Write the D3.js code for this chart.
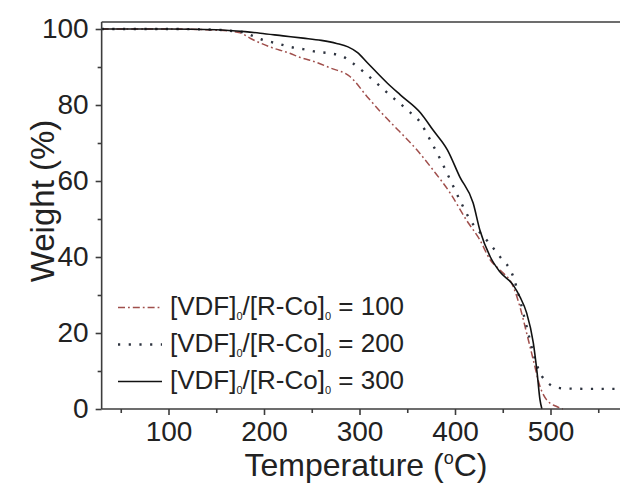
<!DOCTYPE html>
<html>
<head>
<meta charset="utf-8">
<script src="https://cdn.jsdelivr.net/npm/d3@7"></script>
<style>
  html, body { margin: 0; padding: 0; background: #fff; }
  svg { display: block; }
  text { font-family: "Liberation Sans", Arial, sans-serif; fill: #222; }
</style>
</head>
<body>
<svg id="chart" width="620" height="489"></svg>
<script>
// ---- data ----
const temps100 = [30, 100, 150, 175, 186, 206, 227, 238, 248, 270, 290, 308, 325, 342, 360, 377, 395, 412, 426, 437, 447, 461, 468, 475, 482, 489, 496, 507, 513];
const weight100 = [100, 100, 99.7, 99, 97.5, 95.3, 93.6, 92.5, 91.8, 89.7, 87.5, 82.2, 77.4, 73, 68.2, 62.9, 56.8, 49.7, 44.5, 39.2, 36.6, 32.2, 26.9, 20, 12.9, 5.9, 2.4, 0.6, 0];

const temps200 = [30, 100, 150, 170, 178, 186, 199, 214, 227, 241, 255, 269, 283, 293, 304, 314, 332, 350, 364, 374, 385, 395, 405, 416, 433, 447, 461, 468, 475, 482, 489, 496, 503, 515, 540, 600];
const weight200 = [100, 100, 99.8, 99.4, 99.2, 98.4, 97.1, 96.2, 95.3, 94.7, 94, 93.6, 92.7, 91, 88.8, 86.6, 82.6, 78.7, 75.3, 70.8, 65.5, 60.3, 55, 49.7, 44.5, 40.1, 34.8, 28.7, 21.7, 14.7, 9.5, 7.2, 5.9, 5.4, 5.3, 5.3];

const temps300 = [30, 100, 150, 180, 196, 220, 241, 260, 276, 288, 298, 308, 329, 343, 364, 377, 392, 405, 419, 426, 437, 447, 461, 468, 475, 482, 486, 489, 491];
const weight300 = [100, 100, 99.8, 99.3, 98.9, 98.2, 97.6, 97, 96.2, 95.3, 93.8, 91.2, 85.8, 82.6, 77.9, 73.4, 68.2, 61.1, 54.2, 47.1, 40, 36.1, 32.6, 29.5, 25.3, 17.4, 9.5, 2.4, 0];

const seriesRatios = ["100", "200", "300"];
const xMajorTicks = [100, 200, 300, 400, 500];
const xMinorTicks = [50, 150, 250, 350, 450, 550];
const yMajorTicks = [0, 20, 40, 60, 80, 100];
const yMinorTicks = [10, 30, 50, 70, 90];
const xTitle = "Temperature (";
const yTitle = "Weight (%)";

// ---- layout ----
const svg = d3.select("#chart");
const x = d3.scaleLinear().domain([100, 500]).range([168.5, 550.5]);
const y = d3.scaleLinear().domain([0, 100]).range([409, 29]);
const xMin = 30, xMax = 600;
const frameTop = 22;
const axisColor = "#3c3c3c";

const series = [
  { t: temps100, w: weight100, color: "#a04f4c", dash: "7,3,1.8,3", width: 1.5 },
  { t: temps200, w: weight200, color: "#2e3440", dash: "2.2,8.5", width: 2.4 },
  { t: temps300, w: weight300, color: "#111", dash: null, width: 1.6 }
];

// frame: top line
svg.append("line").attr("x1", x(xMin)).attr("x2", x(xMax)).attr("y1", frameTop).attr("y2", frameTop)
  .attr("stroke", axisColor).attr("stroke-width", 1.6);

// curves
const line = d3.line().x(d => x(d[0])).y(d => y(d[1])).curve(d3.curveMonotoneX);
series.forEach(s => {
  const pts = s.t.map((t, i) => [t, s.w[i]]);
  svg.append("path").attr("d", line(pts)).attr("fill", "none")
    .attr("stroke", s.color).attr("stroke-width", s.width)
    .attr("stroke-dasharray", s.dash).attr("stroke-linejoin", "round");
});

// x axis
const gx = svg.append("g").attr("transform", `translate(0,${y(0)})`);
gx.call(d3.axisBottom(x).tickValues(xMajorTicks).tickSize(6).tickSizeOuter(0).tickPadding(6));
gx.selectAll(".tick text").attr("font-size", 28).attr("fill", "#222").attr("dy", "0.71em");
const gxm = svg.append("g").attr("transform", `translate(0,${y(0)})`);
gxm.call(d3.axisBottom(x).tickValues(xMinorTicks).tickSize(4).tickFormat(""));
gxm.select(".domain").remove();
gx.select(".domain").attr("d", `M${x(xMin)},0H${x(xMax)}`);

// y axis
const gy = svg.append("g").attr("transform", `translate(${x(xMin)},0)`);
gy.call(d3.axisLeft(y).tickValues(yMajorTicks).tickSize(6).tickSizeOuter(0).tickPadding(7));
gy.selectAll(".tick text").attr("font-size", 28).attr("fill", "#222");
gy.select(".domain").attr("d", `M0,${frameTop}V${y(0)}`);
const gym = svg.append("g").attr("transform", `translate(${x(xMin)},0)`);
gym.call(d3.axisLeft(y).tickValues(yMinorTicks).tickSize(4).tickFormat(""));
gym.select(".domain").remove();

svg.selectAll(".domain, .tick line").attr("stroke", axisColor).attr("stroke-width", 1.6);

// axis titles
const xt = svg.append("text").attr("x", 366).attr("y", 476).attr("text-anchor", "middle").attr("font-size", 32);
xt.append("tspan").text(xTitle);
xt.append("tspan").text("o").attr("font-size", 18).attr("dy", -12);
xt.append("tspan").text("C)").attr("dy", 12);

svg.append("text").attr("transform", "translate(54,201) rotate(-90)").attr("text-anchor", "middle")
  .attr("font-size", 33).text(yTitle);

// legend
const legendX0 = 118, legendX1 = 162, legendTextX = 170;
const legendY = [307.5, 344.5, 381.5];
series.forEach((s, i) => {
  const ly = legendY[i];
  svg.append("line").attr("x1", legendX0).attr("x2", legendX1).attr("y1", ly).attr("y2", ly)
    .attr("stroke", s.color).attr("stroke-width", s.width).attr("stroke-dasharray", s.dash);
  const t = svg.append("text").attr("x", legendTextX).attr("y", ly + 7).attr("font-size", 26);
  t.append("tspan").text("[VDF]");
  t.append("tspan").text("0").attr("font-size", 11).attr("dy", 5);
  t.append("tspan").text("/[R-Co]").attr("dy", -5);
  t.append("tspan").text("0").attr("font-size", 11).attr("dy", 5);
  t.append("tspan").text(" = " + seriesRatios[i]).attr("dy", -5);
});
</script>
</body>
</html>
